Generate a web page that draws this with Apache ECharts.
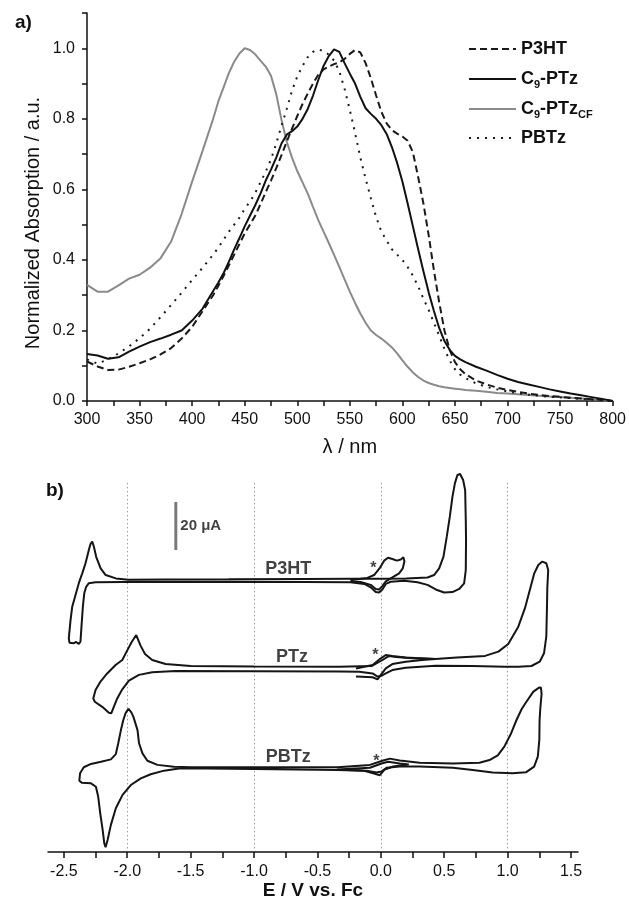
<!DOCTYPE html>
<html>
<head>
<meta charset="utf-8">
<script src="https://cdn.jsdelivr.net/npm/echarts@6/dist/echarts.min.js"></script>
<style>
html, body { margin: 0; padding: 0; background: #fff; }
#main { width: 629px; height: 901px; }
</style>
</head>
<body>
<div id="main"></div>
<script>
// a) normalized absorption spectra
var wavelengths = [
  300, 310, 320, 330, 340, 350, 360, 370, 380, 390, 400, 410, 420,
  425, 430, 435, 440, 445, 450, 455, 460, 465, 470,
  475, 480, 485, 490, 495, 500, 505, 510, 515, 520,
  525, 530, 535, 540, 545, 550, 555, 560, 565, 570,
  575, 580, 585, 590, 595, 600, 605, 610, 615, 620,
  625, 630, 635, 640, 645, 650, 655, 660,
  670, 680, 690, 700, 710, 720, 730, 740, 750, 760, 770, 780, 790, 800
];
var p3ht = [
  0.112, 0.098, 0.088, 0.089, 0.097, 0.107, 0.118, 0.132, 0.150, 0.177, 0.210, 0.255, 0.300,
  0.327, 0.355, 0.385, 0.415, 0.445, 0.475, 0.500, 0.525, 0.558, 0.592,
  0.625, 0.660, 0.697, 0.735, 0.772, 0.808, 0.842, 0.872, 0.900, 0.925,
  0.940, 0.948, 0.955, 0.960, 0.970, 0.984, 0.995, 0.988, 0.958, 0.915,
  0.866, 0.820, 0.787, 0.768, 0.758, 0.750, 0.738, 0.705, 0.635, 0.560,
  0.470, 0.370, 0.280, 0.200, 0.145, 0.110, 0.090, 0.076,
  0.058, 0.047, 0.038, 0.031, 0.026, 0.021, 0.017, 0.014, 0.012, 0.009, 0.007, 0.005, 0.003, 0.000
];
var c9ptz = [
  0.133, 0.129, 0.120, 0.124, 0.140, 0.154, 0.167, 0.177, 0.188, 0.200, 0.228, 0.262, 0.312,
  0.336, 0.363, 0.395, 0.430, 0.462, 0.495, 0.525, 0.555, 0.588, 0.625,
  0.656, 0.690, 0.730, 0.755, 0.765, 0.778, 0.800, 0.828, 0.866, 0.910,
  0.950, 0.978, 0.997, 0.990, 0.958, 0.928, 0.900, 0.862, 0.830, 0.814,
  0.800, 0.782, 0.757, 0.720, 0.675, 0.622, 0.560, 0.495, 0.430, 0.368,
  0.308, 0.255, 0.207, 0.170, 0.145, 0.128, 0.118, 0.110,
  0.097, 0.086, 0.074, 0.063, 0.054, 0.047, 0.040, 0.033, 0.027, 0.021, 0.016, 0.011, 0.006, 0.000
];
var c9ptzCF = [
  0.329, 0.310, 0.310, 0.328, 0.347, 0.358, 0.378, 0.405, 0.452, 0.530, 0.622, 0.710, 0.800,
  0.850, 0.890, 0.930, 0.962, 0.985, 1.000, 0.995, 0.983, 0.965, 0.948,
  0.922, 0.870, 0.797, 0.735, 0.690, 0.652, 0.620, 0.588, 0.550, 0.513,
  0.480, 0.448, 0.414, 0.380, 0.345, 0.310, 0.278, 0.248, 0.222, 0.200,
  0.187, 0.177, 0.165, 0.152, 0.135, 0.115, 0.097, 0.081, 0.068, 0.058,
  0.051, 0.046, 0.042, 0.039, 0.037, 0.035, 0.033, 0.031,
  0.029, 0.026, 0.023, 0.021, 0.019, 0.017, 0.015, 0.013, 0.011, 0.009, 0.007, 0.005, 0.003, 0.000
];
var pbtz = [
  0.118, 0.106, 0.118, 0.135, 0.155, 0.178, 0.205, 0.238, 0.272, 0.307, 0.343, 0.378, 0.415,
  0.435, 0.458, 0.480, 0.500, 0.520, 0.545, 0.565, 0.590, 0.620, 0.650,
  0.685, 0.730, 0.780, 0.828, 0.880, 0.920, 0.950, 0.975, 0.990, 0.997,
  0.992, 0.982, 0.965, 0.935, 0.885, 0.825, 0.760, 0.690, 0.630, 0.575,
  0.522, 0.480, 0.455, 0.430, 0.415, 0.400, 0.380, 0.355, 0.325, 0.290,
  0.258, 0.222, 0.185, 0.148, 0.115, 0.090, 0.075, 0.065,
  0.050, 0.040, 0.033, 0.027, 0.022, 0.018, 0.015, 0.012, 0.010, 0.008, 0.006, 0.004, 0.002, 0.000
];

// b) cyclic voltammograms, [E (V vs Fc), I (uA, offset)]
var p3htCV = [
  [-0.24, 113.9], [-0.6, 113.8], [-1.2, 113.6], [-1.7, 113.5], [-1.99, 113.4], [-2.09, 114.0],
  [-2.17, 115.4], [-2.21, 118.2], [-2.245, 123.0], [-2.263, 127.2], [-2.276, 129.3], [-2.29, 128.3],
  [-2.303, 125.8], [-2.329, 120.3], [-2.355, 116.1], [-2.382, 112.0], [-2.408, 107.1], [-2.434, 102.2],
  [-2.447, 96.7], [-2.461, 89.0], [-2.455, 87.2], [-2.421, 87.0], [-2.403, 87.5], [-2.382, 86.7],
  [-2.369, 87.6], [-2.361, 93.9], [-2.350, 102.2], [-2.339, 107.8], [-2.324, 110.5], [-2.303, 112.0],
  [-2.25, 112.4], [-2.04, 112.5], [-1.2, 112.6], [-0.6, 112.5], [-0.24, 112.4], [-0.13, 111.7],
  [-0.08, 110.3], [-0.04, 108.3], [-0.014, 108.1], [0.012, 109.4], [0.039, 111.7], [0.078, 112.6],
  [0.184, 113.0], [0.289, 112.4], [0.368, 111.3], [0.433, 109.4], [0.499, 108.1], [0.565, 108.3],
  [0.618, 109.6], [0.657, 111.9], [0.670, 117.5], [0.672, 130.0], [0.670, 138.3], [0.665, 150.8],
  [0.649, 155.0], [0.625, 157.5], [0.604, 157.1], [0.584, 153.6], [0.565, 148.1], [0.544, 139.7],
  [0.520, 131.4], [0.494, 123.1], [0.460, 118.2], [0.420, 115.4], [0.368, 114.4], [0.2, 114.0],
  [0.0, 113.9], [-0.24, 113.9]
];
var p3htFcCV = [
  [-0.24, 113.3], [-0.106, 114.2], [-0.053, 115.4], [-0.006, 118.5], [0.026, 121.4], [0.057, 122.6],
  [0.091, 122.1], [0.126, 121.4], [0.157, 121.9], [0.178, 122.8], [0.186, 121.0], [0.173, 118.2],
  [0.144, 116.1], [0.091, 114.4], [0.039, 112.8], [0.012, 110.8], [-0.014, 109.4], [-0.040, 109.6],
  [-0.080, 111.3], [-0.159, 112.5], [-0.24, 112.8]
];
var ptzCV = [
  [-0.33, 77.2], [-0.07, 77.5], [0.013, 80.0], [0.065, 81.7], [0.12, 81.2], [0.25, 80.7],
  [0.431, 80.4], [0.6, 81.0], [0.822, 81.7], [0.927, 83.5], [1.005, 86.7], [1.084, 93.9],
  [1.136, 101.5], [1.175, 109.2], [1.21, 116.1], [1.242, 119.6], [1.273, 121.0], [1.305, 120.3],
  [1.32, 117.5], [1.313, 110.0], [1.311, 103.6], [1.305, 89.7], [1.287, 82.8], [1.253, 79.3],
  [1.188, 77.5], [1.084, 77.2], [0.979, 77.2], [0.718, 77.5], [0.431, 77.6], [0.196, 76.8],
  [0.091, 75.8], [0.039, 74.4], [0.0, 73.3], [-0.026, 73.1], [-0.065, 74.4], [-0.17, 75.1],
  [-0.33, 75.2], [-1.0, 75.3], [-1.619, 75.4], [-1.803, 74.9], [-1.908, 73.8], [-1.987, 71.4],
  [-2.039, 67.8], [-2.079, 64.0], [-2.106, 60.5], [-2.126, 57.8], [-2.145, 58.0], [-2.197, 60.5],
  [-2.256, 62.6], [-2.268, 64.0], [-2.250, 67.5], [-2.211, 71.0], [-2.158, 74.4], [-2.092, 77.9],
  [-2.039, 80.0], [-2.0, 84.0], [-1.965, 87.5], [-1.929, 90.4], [-1.895, 86.0], [-1.86, 82.5],
  [-1.803, 80.0], [-1.698, 78.3], [-1.5, 77.5], [-1.0, 77.3], [-0.33, 77.2]
];
var ptzFcCV = [
  [-0.196, 76.5], [-0.065, 77.9], [0.0, 80.7], [0.039, 82.1], [0.091, 81.7], [0.196, 81.0],
  [0.431, 80.4], [0.326, 80.0], [0.196, 79.3], [0.091, 78.3], [0.039, 76.5], [0.0, 73.8],
  [-0.026, 71.9], [-0.065, 72.8], [-0.196, 73.1]
];
var pbtzCV = [
  [-0.34, 35.3], [-0.086, 36.3], [0.018, 38.1], [0.071, 38.9], [0.149, 38.1], [0.306, 37.2],
  [0.568, 36.9], [0.778, 37.2], [0.857, 38.3], [0.922, 40.3], [0.974, 43.9], [1.027, 49.4],
  [1.07, 55.0], [1.11, 59.5], [1.14, 62.0], [1.203, 66.8], [1.245, 68.4], [1.262, 68.6],
  [1.268, 66.0], [1.258, 60.0], [1.252, 55.0], [1.250, 46.7], [1.238, 39.7], [1.209, 35.6],
  [1.144, 33.2], [1.039, 32.8], [0.882, 33.1], [0.725, 34.2], [0.568, 35.1], [0.306, 35.6],
  [0.149, 35.6], [0.045, 35.1], [0.005, 33.5], [-0.034, 33.1], [-0.113, 33.9], [-0.348, 34.2],
  [-1.0, 34.6], [-1.579, 34.9], [-1.710, 33.9], [-1.815, 32.4], [-1.893, 30.7], [-1.972, 27.9],
  [-2.037, 23.8], [-2.090, 18.2], [-2.129, 11.3], [-2.155, 5.0], [-2.171, 2.0], [-2.181, 3.6],
  [-2.194, 9.2], [-2.213, 16.1], [-2.229, 23.0], [-2.247, 27.2], [-2.286, 28.6], [-2.359, 28.9],
  [-2.378, 29.7], [-2.372, 32.8], [-2.343, 35.3], [-2.286, 36.7], [-2.207, 37.6], [-2.129, 38.6],
  [-2.090, 40.8], [-2.071, 45.3], [-2.050, 50.8], [-2.031, 55.0], [-2.012, 58.0], [-1.99, 59.6],
  [-1.968, 58.2], [-1.952, 56.4], [-1.919, 50.8], [-1.907, 45.3], [-1.880, 41.1], [-1.841, 38.0],
  [-1.762, 36.3], [-1.632, 35.5], [-1.5, 35.3], [-1.0, 35.3], [-0.34, 35.3]
];
var pbtzFcCV = [
  [-0.348, 34.4], [-0.086, 35.1], [0.005, 36.9], [0.058, 37.6], [0.149, 36.9], [0.22, 36.5],
  [0.097, 35.6], [0.031, 34.4], [-0.008, 32.0], [-0.06, 32.8], [-0.139, 33.9], [-0.348, 34.4]
];
var cvGuideLines = [-2, -1, 0, 1];
var cvTickValues = [-2.5, -2.25, -2, -1.75, -1.5, -1.25, -1, -0.75, -0.5, -0.25, 0,
  0.25, 0.5, 0.75, 1, 1.25, 1.5];
var cvLabelValues = [-2.5, -2, -1.5, -1, -0.5, 0, 0.5, 1, 1.5];
var cvNames = [['P3HT', -0.73, 118.1], ['PTz', -0.70, 81.2], ['PBTz', -0.73, 39.4]];
var cvStars = [[-0.058, 118.0], [-0.043, 81.8], [-0.036, 37.8]];
var scaleBar = [[-1.617, 125.8], [-1.617, 145.8]];
var scaleBarText = '20 \u03bcA';

var FONT = 'Liberation Sans, Arial, sans-serif';
var INK = '#111';

function pairs(xs, ys) {
  return xs.map(function (x, i) { return [x, ys[i]]; });
}

function specSeries(name, values, color, type) {
  return {
    name: name, type: 'line', xAxisIndex: 0, yAxisIndex: 0,
    data: pairs(wavelengths, values),
    symbol: 'none', animation: false,
    lineStyle: { color: color, width: 2, type: type, cap: type === 'dotted' ? 'round' : 'butt' },
    itemStyle: { color: color }
  };
}

function cvSeries(data) {
  return {
    type: 'line', xAxisIndex: 1, yAxisIndex: 1, data: data,
    symbol: 'none', animation: false, z: 3,
    lineStyle: { color: '#151515', width: 2 }
  };
}

var legendRich = {
  n: { fontFamily: FONT, fontSize: 18, fontWeight: 'bold', color: INK, lineHeight: 22 },
  s: { fontFamily: FONT, fontSize: 11, fontWeight: 'bold', color: INK, lineHeight: 12,
       padding: [10, 0, 0, 0], verticalAlign: 'bottom' }
};
var legendText = {
  'P3HT': '{n|P3HT}',
  'C9-PTz': '{n|C}{s|9}{n|-PTz}',
  'C9-PTzCF': '{n|C}{s|9}{n|-PTz}{s|CF}',
  'PBTz': '{n|PBTz}'
};
var legendRows = [['P3HT', 40], ['C9-PTz', 69], ['C9-PTzCF', 99], ['PBTz', 129]];

var myChart = echarts.init(document.getElementById('main'));
myChart.setOption({
  backgroundColor: '#fff',
  animation: false,
  textStyle: { fontFamily: FONT },
  title: [
    { text: 'a)', left: 10, top: 8, textStyle: { fontFamily: FONT, fontSize: 19, fontWeight: 'bold', color: INK } },
    { text: 'b)', left: 41, top: 476, textStyle: { fontFamily: FONT, fontSize: 19, fontWeight: 'bold', color: INK } }
  ],
  legend: legendRows.map(function (r) {
    return {
      data: [r[0]], left: 468, top: r[1], itemWidth: 47, itemHeight: 14,
      selectedMode: false, padding: 0,
      itemStyle: { opacity: 0 },
      formatter: function (name) { return legendText[name]; },
      textStyle: { fontFamily: FONT, fontSize: 18, fontWeight: 'bold', color: INK, rich: legendRich }
    };
  }),
  graphic: [{
    type: 'text', x: 33, y: 223, rotation: Math.PI / 2,
    style: { text: 'Normalized Absorption / a.u.', fontFamily: FONT, fontSize: 20,
             fill: INK, textAlign: 'center', textVerticalAlign: 'middle' }
  }],
  grid: [
    { left: 87, top: 13, width: 527, height: 388 },
    { left: 48, top: 468, width: 530, height: 384 }
  ],
  xAxis: [
    {
      gridIndex: 0, type: 'value', min: 300, max: 800, interval: 25,
      name: '\u03bb / nm', nameLocation: 'middle', nameGap: 36,
      nameTextStyle: { fontFamily: FONT, fontSize: 20, color: INK },
      axisLine: { show: true, lineStyle: { color: INK, width: 1.5 } },
      axisTick: { show: true, length: 5, lineStyle: { color: INK, width: 1.5 } },
      axisLabel: {
        margin: 11, fontFamily: FONT, fontSize: 16, color: INK,
        formatter: function (v) { return v % 50 === 0 ? String(v) : ''; }
      },
      splitLine: { show: false }
    },
    {
      gridIndex: 1, type: 'value', min: -2.625, max: 1.555,
      name: 'E / V vs. Fc', nameLocation: 'middle', nameGap: 28,
      nameTextStyle: { fontFamily: FONT, fontSize: 19, fontWeight: 'bold', color: INK },
      axisLine: { show: true, onZero: false, lineStyle: { color: INK, width: 1.5 } },
      axisTick: { show: true, length: 6, customValues: cvTickValues, lineStyle: { color: INK, width: 1.5 } },
      axisLabel: {
        margin: 12, fontFamily: FONT, fontSize: 16, color: INK, customValues: cvLabelValues,
        formatter: function (v) { return v.toFixed(1); }
      },
      splitLine: { show: false }
    }
  ],
  yAxis: [
    {
      gridIndex: 0, type: 'value', min: 0, max: 1.1, interval: 0.1,
      axisLine: { show: true, lineStyle: { color: INK, width: 1.5 } },
      axisTick: { show: true, length: 5, lineStyle: { color: INK, width: 1.5 } },
      axisLabel: {
        margin: 12, fontFamily: FONT, fontSize: 16, color: INK,
        formatter: function (v) { return Math.round(v * 10) % 2 === 0 ? v.toFixed(1) : ''; }
      },
      splitLine: { show: false }
    },
    { gridIndex: 1, type: 'value', min: 0, max: 160, show: false }
  ],
  series: [
    specSeries('C9-PTzCF', c9ptzCF, '#8a8a8a', 'solid'),
    specSeries('PBTz', pbtz, '#1a1a1a', [2, 6]),
    specSeries('P3HT', p3ht, '#1a1a1a', [7, 4]),
    specSeries('C9-PTz', c9ptz, '#111', 'solid'),
    {
      type: 'scatter', xAxisIndex: 1, yAxisIndex: 1, z: 4, symbolSize: 1, animation: false,
      itemStyle: { color: 'rgba(0,0,0,0)' },
      label: { show: true, position: 'inside', formatter: '{b}', fontFamily: FONT,
               fontSize: 18, fontWeight: 'bold', color: INK },
      data: cvNames.map(function (d) { return { name: d[0], value: [d[1], d[2]] }; }),
      markLine: {
        silent: true, symbol: ['none', 'none'], animation: false, z: 1,
        label: { show: false },
        lineStyle: { type: [1.5, 2.5], color: '#9a9a9a', width: 1 },
        data: cvGuideLines.map(function (e) { return [{ coord: [e, 1.5] }, { coord: [e, 154.3] }]; })
      }
    },
    {
      type: 'scatter', xAxisIndex: 1, yAxisIndex: 1, z: 4, symbolSize: 1, animation: false,
      itemStyle: { color: 'rgba(0,0,0,0)' },
      label: { show: true, position: 'inside', formatter: '*', fontFamily: FONT,
               fontSize: 16, fontWeight: 'bold', color: INK },
      data: cvStars
    },
    {
      type: 'line', xAxisIndex: 1, yAxisIndex: 1, data: scaleBar, symbol: 'none', animation: false,
      lineStyle: { color: '#7a7a7a', width: 3 }
    },
    {
      type: 'scatter', xAxisIndex: 1, yAxisIndex: 1, symbolSize: 1, animation: false,
      itemStyle: { color: 'rgba(0,0,0,0)' },
      label: { show: true, position: 'right', distance: 4, formatter: scaleBarText, fontFamily: FONT,
               fontSize: 15, fontWeight: 'bold', color: INK },
      data: [[scaleBar[0][0], (scaleBar[0][1] + scaleBar[1][1]) / 2]]
    },
    cvSeries(p3htCV), cvSeries(p3htFcCV),
    cvSeries(ptzCV), cvSeries(ptzFcCV),
    cvSeries(pbtzCV), cvSeries(pbtzFcCV)
  ]
});
</script>
</body>
</html>
